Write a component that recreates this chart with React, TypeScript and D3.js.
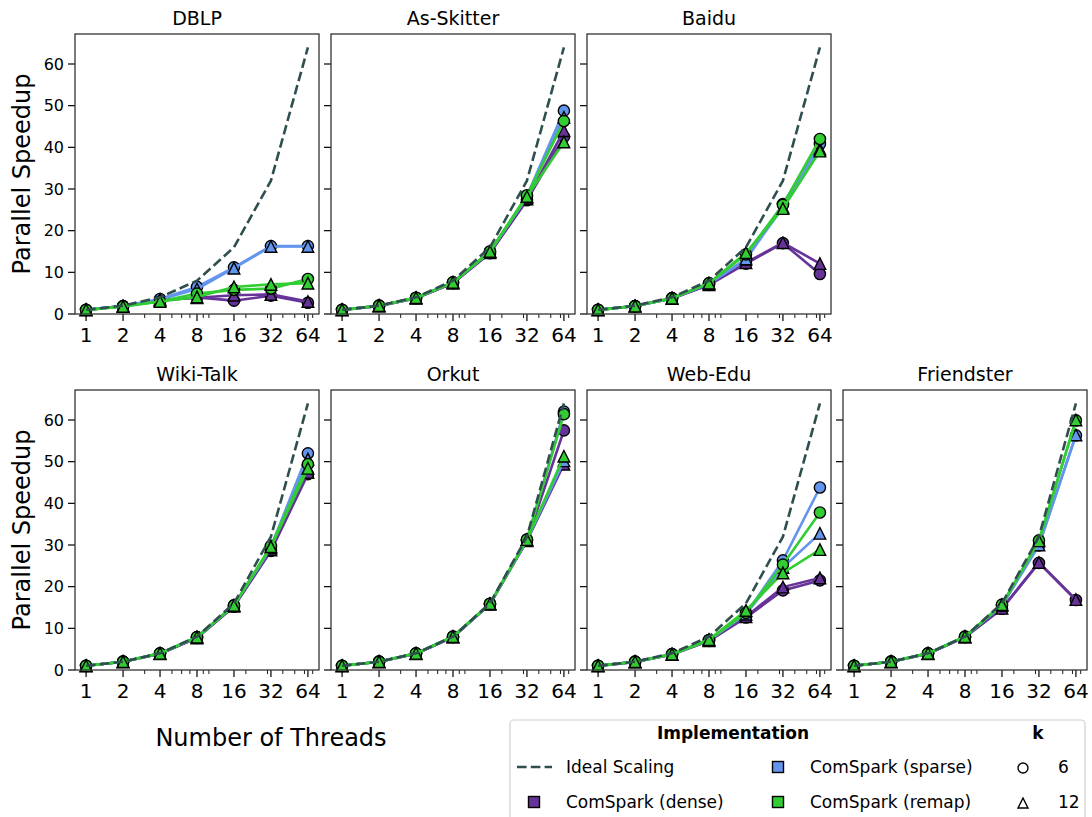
import React from "react";
import * as d3 from "d3";

const datasets = ["DBLP", "As-Skitter", "Baidu", "Wiki-Talk", "Orkut", "Web-Edu", "Friendster"];
const threads = [1, 2, 4, 8, 16, 32, 64];
const ideal = [1, 2, 4, 8, 16, 32, 64];
const yTicks = [0, 10, 20, 30, 40, 50, 60];
const minorX = [3, 5, 6, 7, 9, 10, 20, 30, 40, 50, 60, 70];

// per dataset (same order as datasets), values at threads
const dense6 = [
  [1, 1.9, 3.3, 4.0, 3.2, 4.4, 2.7],
  [1, 1.95, 3.8, 7.4, 14.6, 27.3, 42.5],
  [1, 1.9, 3.7, 7.0, 12.1, 17.0, 9.6],
  [1, 2, 3.9, 7.7, 15.2, 28.6, 47.0],
  [1, 2, 3.9, 7.9, 15.8, 31.1, 57.5],
  [1, 1.95, 3.7, 7.0, 12.6, 19.1, 21.5],
  [1, 2, 3.9, 7.9, 14.7, 25.7, 16.8],
];
const dense12 = [
  [1, 1.9, 3.3, 3.9, 4.5, 4.7, 3.0],
  [1, 1.95, 3.8, 7.4, 14.7, 27.6, 44.0],
  [1, 1.9, 3.7, 7.0, 12.3, 17.1, 12.1],
  [1, 2, 3.9, 7.7, 15.3, 28.8, 47.4],
  [1, 2, 3.9, 7.9, 15.8, 31.0, 49.4],
  [1, 1.95, 3.7, 7.0, 12.8, 19.9, 22.1],
  [1, 2, 3.9, 7.9, 14.8, 25.8, 16.9],
];
const sparse6 = [
  [1, 1.9, 3.6, 6.5, 11.2, 16.3, 16.3],
  [1, 2, 3.9, 7.6, 15.0, 28.3, 48.8],
  [1, 1.9, 3.8, 7.3, 13.0, 26.4, 40.8],
  [1, 2, 4, 7.9, 15.5, 29.5, 52.0],
  [1, 2, 4, 8, 15.9, 31.3, 62.0],
  [1, 2, 3.8, 7.2, 13.5, 26.3, 43.8],
  [1, 2, 4, 8, 15.5, 29.9, 56.3],
];
const sparse12 = [
  [1, 1.9, 3.5, 6.0, 11.0, 16.2, 16.2],
  [1, 2, 3.9, 7.6, 15.0, 28.0, 47.2],
  [1, 1.9, 3.8, 7.3, 13.2, 25.6, 39.6],
  [1, 2, 4, 7.9, 15.5, 29.3, 50.6],
  [1, 2, 4, 8, 15.9, 31.2, 50.2],
  [1, 2, 3.8, 7.2, 13.4, 24.6, 32.8],
  [1, 2, 4, 8, 15.5, 30.0, 56.4],
];
const remap6 = [
  [1, 1.8, 3.0, 4.9, 5.8, 6.1, 8.4],
  [1, 2, 3.9, 7.6, 15.0, 28.5, 46.3],
  [1, 1.9, 3.8, 7.4, 14.3, 26.2, 42.0],
  [1, 2, 4, 7.9, 15.5, 29.8, 49.4],
  [1, 2, 4, 8, 15.9, 31.3, 61.4],
  [1, 2, 3.8, 7.2, 13.7, 25.3, 37.8],
  [1, 2, 4, 8, 15.7, 31.1, 59.9],
];
const remap12 = [
  [1, 1.8, 3.0, 4.1, 6.5, 7.1, 7.4],
  [1, 2, 3.9, 7.6, 15.0, 28.2, 41.3],
  [1, 1.9, 3.8, 7.4, 14.7, 25.3, 39.1],
  [1, 2, 4, 7.9, 15.5, 29.6, 48.4],
  [1, 2, 4, 8, 15.9, 31.3, 51.3],
  [1, 2, 3.8, 7.3, 14.3, 23.3, 28.9],
  [1, 2, 4, 8, 15.7, 31.0, 60.0],
];

const COLORS = { dense: "#663399", sparse: "#6495ED", remap: "#32CD32", ideal: "#2F4F4F" };

const seriesList = [
  { data: dense6, color: COLORS.dense, marker: "circle" },
  { data: dense12, color: COLORS.dense, marker: "triangle" },
  { data: sparse6, color: COLORS.sparse, marker: "circle" },
  { data: sparse12, color: COLORS.sparse, marker: "triangle" },
  { data: remap6, color: COLORS.remap, marker: "circle" },
  { data: remap12, color: COLORS.remap, marker: "triangle" },
];

const FONT = "DejaVu Sans, sans-serif";
const PW = 244;
const PH = 280;
const lefts = [75, 331, 587, 843];
const tops = [34, 390];
const slots = [
  [0, 0], [0, 1], [0, 2],
  [1, 0], [1, 1], [1, 2], [1, 3],
];

function triPath(cx: number, cy: number, s: number) {
  return `M${cx},${cy - s}L${cx + s},${cy + s}L${cx - s},${cy + s}Z`;
}

function Panel({ idx }: { idx: number }) {
  const [row, col] = slots[idx];
  const x0 = lefts[col];
  const y0 = tops[row];
  const x = d3.scaleLog().base(2).domain([Math.pow(2, -0.3), Math.pow(2, 6.3)]).range([x0, x0 + PW]);
  const y = d3.scaleLinear().domain([0, 67.2]).range([y0 + PH, y0]);
  const line = d3
    .line<number>()
    .x((_, i) => x(threads[i]))
    .y((d) => y(d));
  const bottom = y0 + PH;
  return (
    <g>
      <text x={x0 + PW / 2} y={y0 - 9} textAnchor="middle" fontSize={19} fontFamily={FONT}>
        {datasets[idx]}
      </text>
      {/* y ticks */}
      {yTicks.map((t) => (
        <g key={"y" + t}>
          <line x1={x0 - 7} x2={x0} y1={y(t)} y2={y(t)} stroke="#000" strokeWidth={1.2} />
          {col === 0 && (
            <text x={x0 - 11} y={y(t)} dy="0.36em" textAnchor="end" fontSize={16} fontFamily={FONT}>
              {t}
            </text>
          )}
        </g>
      ))}
      {/* x ticks */}
      {threads.map((t) => (
        <g key={"x" + t}>
          <line x1={x(t)} x2={x(t)} y1={bottom} y2={bottom + 7} stroke="#000" strokeWidth={1.2} />
          <text x={x(t)} y={bottom + 28} textAnchor="middle" fontSize={20} fontFamily={FONT}>
            {t}
          </text>
        </g>
      ))}
      {minorX.map((t) => (
        <line key={"m" + t} x1={x(t)} x2={x(t)} y1={bottom} y2={bottom + 4} stroke="#000" strokeWidth={0.9} />
      ))}
      {/* series */}
      {seriesList.map((s, si) => {
        const vals = s.data[idx];
        return (
          <g key={"s" + si}>
            <path d={line(vals) || ""} fill="none" stroke={s.color} strokeWidth={2.6} />
            {vals.map((v, i) =>
              s.marker === "circle" ? (
                <circle key={i} cx={x(threads[i])} cy={y(v)} r={5.6} fill={s.color} stroke="#000" strokeWidth={1.4} />
              ) : (
                <path key={i} d={triPath(x(threads[i]), y(v), 5.8)} fill={s.color} stroke="#000" strokeWidth={1.4} />
              )
            )}
          </g>
        );
      })}
      <path d={line(ideal) || ""} fill="none" stroke={COLORS.ideal} strokeWidth={2.6} strokeDasharray="9.6,4.2" />
      <rect x={x0} y={y0} width={PW} height={PH} fill="none" stroke="#333" strokeWidth={1.3} />
    </g>
  );
}

function Legend() {
  const lx = 510;
  const ly = 720;
  const r1 = 767;
  const r2 = 802;
  return (
    <g fontFamily={FONT} fontSize={17}>
      <rect x={lx} y={ly} width={575} height={110} rx={4} fill="#fff" fillOpacity={0.8} stroke="#d0d0d0" strokeWidth={1.2} />
      <text x={733} y={733} dy="0.36em" textAnchor="middle" fontWeight="bold">Implementation</text>
      <text x={1038} y={733} dy="0.36em" textAnchor="middle" fontWeight="bold">k</text>
      <line x1={517} x2={552} y1={r1} y2={r1} stroke={COLORS.ideal} strokeWidth={2.6} strokeDasharray="9.6,4.2" />
      <text x={566} y={r1} dy="0.36em">Ideal Scaling</text>
      <rect x={534 - 5.5} y={r2 - 5.5} width={11} height={11} fill={COLORS.dense} stroke="#000" strokeWidth={1.4} />
      <text x={566} y={r2} dy="0.36em">ComSpark (dense)</text>
      <rect x={778 - 5.5} y={r1 - 5.5} width={11} height={11} fill={COLORS.sparse} stroke="#000" strokeWidth={1.4} />
      <text x={810} y={r1} dy="0.36em">ComSpark (sparse)</text>
      <rect x={778 - 5.5} y={r2 - 5.5} width={11} height={11} fill={COLORS.remap} stroke="#000" strokeWidth={1.4} />
      <text x={810} y={r2} dy="0.36em">ComSpark (remap)</text>
      <circle cx={1023} cy={r1 + 1} r={5} fill="#fff" stroke="#000" strokeWidth={1.4} />
      <text x={1058} y={r1} dy="0.36em">6</text>
      <path d={triPath(1023, r2 + 1, 5)} fill="#fff" stroke="#000" strokeWidth={1.4} />
      <text x={1058} y={r2} dy="0.36em">12</text>
    </g>
  );
}

export default function App() {
  return (
    <svg
      width={1092}
      height={817}
      style={{ position: "absolute", left: 0, top: 0, background: "#fff" }}
      xmlns="http://www.w3.org/2000/svg"
    >
      <rect x={0} y={0} width={1092} height={817} fill="#fff" />
      {datasets.map((_, i) => (
        <Panel key={i} idx={i} />
      ))}
      <text transform={`translate(30,174) rotate(-90)`} textAnchor="middle" fontSize={24} fontFamily={FONT}>
        Parallel Speedup
      </text>
      <text transform={`translate(30,530) rotate(-90)`} textAnchor="middle" fontSize={24} fontFamily={FONT}>
        Parallel Speedup
      </text>
      <text x={271} y={746} textAnchor="middle" fontSize={24} fontFamily={FONT}>
        Number of Threads
      </text>
      <Legend />
    </svg>
  );
}
